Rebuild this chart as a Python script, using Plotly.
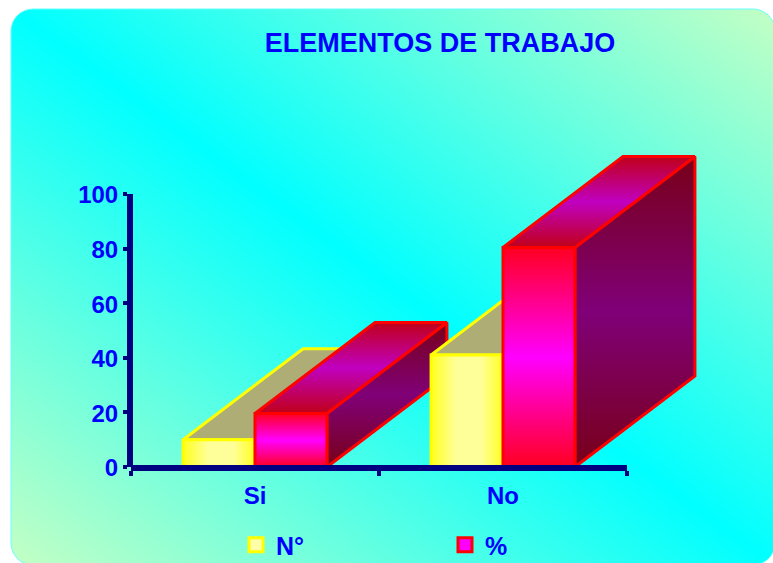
import base64
import plotly.graph_objects as go

# ---- data ----
categories = ["Si", "No"]
series_names = ["N°", "%"]
values_n = [10, 41]
values_pct = [19.6, 80.4]
y_ticks = [0, 20, 40, 60, 80, 100]
title_text = "ELEMENTOS DE TRABAJO"

# ---- style ----
W, H = 773, 563
L, R, T, B = 131, 627, 194, 467
UX = (R - L) / 2
UY = (B - T) / 100
BAR_W = 0.29
GROUP_START = 0.21
DX, DY = 120 / UX, 91 / UY
BLUE = "#0000FF"
NAVY = "#000080"
FONT = "Liberation Sans"

STYLES = [
    dict(line="#FFFF00",
         front=[[0, "#FFFF20"], [0.35, "#FFFF99"], [0.7, "#FFFF99"], [1, "#FFFF20"]],
         top=[[0, "#ADAD75"], [1, "#ADAD75"]],
         side=[[0, "#808020"], [1, "#808020"]],
         swatch="#FFFFAA"),
    dict(line="#FF0000",
         front=[[0, "#FF0020"], [0.5, "#FF00FF"], [1, "#FF0020"]],
         top=[[0, "#C00018"], [0.5, "#C000C0"], [1, "#C00018"]],
         side=[[0, "#780018"], [0.5, "#800078"], [1, "#780018"]],
         swatch="#FF00FF"),
]

svg = f"""<svg xmlns="http://www.w3.org/2000/svg" width="{W}" height="{H}" viewBox="0 0 {W} {H}" preserveAspectRatio="none">
<defs><linearGradient id="g" x1="0" y1="1" x2="1" y2="0">
<stop offset="0" stop-color="#C4FFC4"/><stop offset="0.5" stop-color="#00FFFF"/><stop offset="1" stop-color="#C4FFC4"/>
</linearGradient></defs>
<rect x="11" y="9" width="764" height="556" rx="22" ry="22" fill="url(#g)" stroke="#66FFFF" stroke-width="1"/>
</svg>"""
src = "data:image/svg+xml;base64," + base64.b64encode(svg.encode()).decode()

fig = go.Figure()


def face(xs, ys, color, scale, orient):
    fig.add_trace(go.Scatter(
        x=xs + xs[:1], y=ys + ys[:1], mode="lines", fill="toself",
        line=dict(color=color, width=3),
        fillgradient=dict(type=orient, colorscale=scale),
        showlegend=False, hoverinfo="skip", xaxis="x", yaxis="y"))


for c in range(len(categories)):
    for s, vals in enumerate([values_n, values_pct]):
        st = STYLES[s]
        x0 = c + GROUP_START + s * BAR_W
        x1 = x0 + BAR_W
        v = vals[c]
        face([x1, x1 + DX, x1 + DX, x1], [0, DY, v + DY, v], st["line"], st["side"], "vertical")
        face([x0, x1, x1 + DX, x0 + DX], [v, v, v + DY, v + DY], st["line"], st["top"], "vertical")
        face([x0, x1, x1, x0], [0, 0, v, v], st["line"], st["front"],
             "horizontal" if s == 0 else "vertical")

for s, name in enumerate(series_names):
    st = STYLES[s]
    fig.add_trace(go.Scatter(
        x=[None], y=[None], mode="markers", name=name, showlegend=True,
        xaxis="x2", yaxis="y2",
        marker=dict(symbol="square", size=14, color=st["swatch"],
                    line=dict(color=st["line"], width=3)),
    ))

fig.update_layout(
    width=W, height=H,
    margin=dict(l=0, r=0, t=0, b=0, pad=0, autoexpand=False),
    autosize=False,
    paper_bgcolor="white", plot_bgcolor="rgba(0,0,0,0)",
    font=dict(family=FONT, color=BLUE),
    title=dict(text=f"<b>{title_text}</b>", xref="container", x=440 / W, xanchor="center",
               yref="container", y=1 - 43 / H, yanchor="middle",
               font=dict(size=27, color=BLUE, family=FONT)),
    # full-page axes holding the 3-D faces, same scale as the visible axes
    xaxis=dict(domain=[0, 1], range=[-L / UX, (W - L) / UX], visible=False),
    yaxis=dict(domain=[0, 1], range=[-(H - B) / UY, B / UY], visible=False),
    # visible axes
    xaxis2=dict(domain=[L / W, R / W], range=[0, 2], anchor="free", position=1 - 467.5 / H,
                tickmode="array", tickvals=[0.5, 1.5],
                ticktext=[f"<b>{c}</b>" for c in categories],
                ticks="", tickfont=dict(size=24, color=BLUE, family=FONT),
                showline=True, linecolor=NAVY, linewidth=6, showgrid=False, zeroline=False,
                ticklabelstandoff=5,
                minor=dict(tickmode="array", tickvals=[0, 1, 2], ticks="outside",
                           ticklen=5, tickwidth=4, tickcolor=NAVY, showgrid=False)),
    yaxis2=dict(domain=[1 - B / H, 1 - T / H], range=[0, 100], anchor="free", position=130 / W,
                tickmode="array", tickvals=y_ticks,
                ticktext=[f"<b>{v}</b>" for v in y_ticks],
                ticks="outside", ticklen=4, tickwidth=4, tickcolor=NAVY,
                ticklabelshift=1,
                tickfont=dict(size=24, color=BLUE, family=FONT),
                showline=True, linecolor=NAVY, linewidth=6, showgrid=False, zeroline=False),
    showlegend=True,
    legend=dict(orientation="h", xref="paper", yref="paper",
                x=236 / W, xanchor="left",
                y=-0.009, yanchor="bottom",
                entrywidth=164, entrywidthmode="pixels", bgcolor="rgba(0,0,0,0)",
                font=dict(size=25, color=BLUE, family=FONT, weight="bold")),
    images=[dict(source=src, xref="paper", yref="paper",
                 x=0, sizex=1, y=1, sizey=1,
                 xanchor="left", yanchor="top", sizing="stretch", layer="below")],
)

fig.write_html("out.html", config=dict(displayModeBar=False),
               post_script="document.body.style.margin='0';document.documentElement.style.overflow='hidden';")
